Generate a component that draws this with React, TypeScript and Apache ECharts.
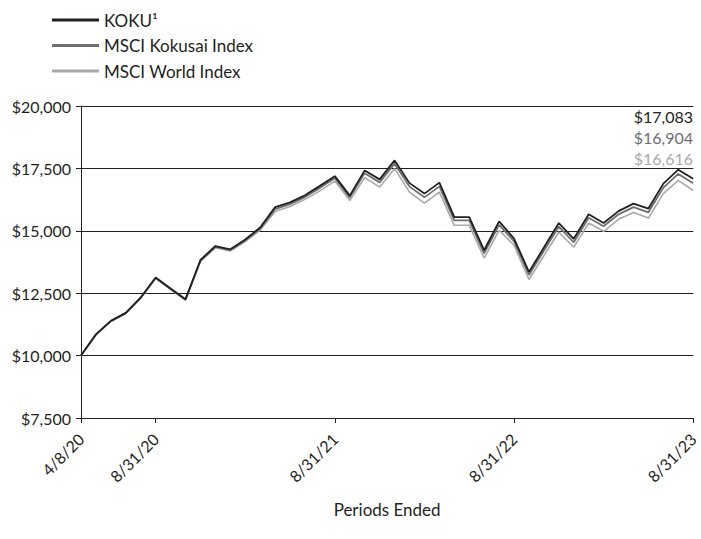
import React, { useEffect, useRef } from "react";
import * as echarts from "echarts";

const periods: string[] = [
  "4/8/20", "4/30/20", "5/31/20", "6/30/20", "7/31/20", "8/31/20", "9/30/20", "10/31/20", "11/30/20", "12/31/20",
  "1/31/21", "2/28/21", "3/31/21", "4/30/21", "5/31/21", "6/30/21", "7/31/21", "8/31/21", "9/30/21", "10/31/21",
  "11/30/21", "12/31/21", "1/31/22", "2/28/22", "3/31/22", "4/30/22", "5/31/22", "6/30/22", "7/31/22", "8/31/22",
  "9/30/22", "10/31/22", "11/30/22", "12/31/22", "1/31/23", "2/28/23", "3/31/23", "4/30/23", "5/31/23", "6/30/23",
  "7/31/23", "8/31/23",
];

const tickLabels: string[] = ["4/8/20", "8/31/20", "8/31/21", "8/31/22", "8/31/23"];

const koku: number[] = [
  10000, 10850, 11390, 11710, 12330, 13130, 12690, 12260, 13830, 14390,
  14260, 14650, 15130, 15950, 16140, 16420, 16800, 17190, 16410, 17420,
  17060, 17820, 16910, 16490, 16930, 15550, 15550, 14220, 15380, 14690,
  13350, 14330, 15310, 14680, 15660, 15310, 15790, 16090, 15890, 16890,
  17450, 17083,
];

const kokusai: number[] = [
  10000, 10845, 11380, 11700, 12315, 13110, 12670, 12240, 13800, 14360,
  14230, 14610, 15080, 15870, 16070, 16350, 16720, 17110, 16330, 17310,
  16940, 17690, 16770, 16340, 16780, 15420, 15420, 14100, 15240, 14580,
  13230, 14200, 15170, 14540, 15520, 15180, 15660, 15950, 15740, 16730,
  17280, 16904,
];

const world: number[] = [
  10000, 10840, 11370, 11690, 12300, 13090, 12650, 12220, 13770, 14320,
  14190, 14570, 15030, 15770, 15970, 16260, 16600, 16990, 16210, 17130,
  16750, 17490, 16550, 16110, 16550, 15220, 15220, 13910, 15020, 14420,
  13050, 14000, 14950, 14340, 15310, 14980, 15460, 15730, 15510, 16490,
  17020, 16616,
];

const seriesNames = ["KOKU¹", "MSCI Kokusai Index", "MSCI World Index"];
const colors = ["#231f20", "#6d6e71", "#a7a9ac"];

const fmt = (v: number) => "$" + v.toLocaleString("en-US");

export default function App() {
  const ref = useRef<HTMLDivElement>(null);
  useEffect(() => {
    if (!ref.current) return;
    const chart = echarts.init(ref.current, undefined, { renderer: "svg" });
    const font = "Lato, 'Open Sans', sans-serif";
    const labelIdx = new Set(tickLabels.map((t) => periods.indexOf(t)));
    const lastVals = [koku, kokusai, world].map((a) => a[a.length - 1]);
    chart.setOption({
      animation: false,
      textStyle: { fontFamily: font },
      grid: { left: 81, right: 7, top: 106, bottom: 121, containLabel: false },
      legend: {
        orient: "vertical",
        left: 52,
        top: 10,
        padding: 0,
        itemWidth: 47,
        itemHeight: 3,
        itemGap: 5.5,
        icon: "rect",
        textStyle: { fontFamily: font, fontSize: 17, color: "#231f20", lineHeight: 20 },
        data: seriesNames,
      },
      xAxis: {
        type: "category",
        data: periods,
        boundaryGap: false,
        name: "Periods Ended",
        nameLocation: "middle",
        nameGap: 83,
        nameTextStyle: { fontFamily: font, fontSize: 17, color: "#231f20" },
        axisLine: { lineStyle: { color: "#231f20", width: 1 } },
        axisTick: {
          show: true,
          length: 5,
          interval: (i: number) => labelIdx.has(i),
          lineStyle: { color: "#231f20" },
        },
        axisLabel: {
          interval: (i: number) => labelIdx.has(i),
          rotate: 45,
          margin: 18,
          fontFamily: font,
          fontSize: 16,
          color: "#231f20",
        },
        splitLine: { show: false },
      },
      yAxis: {
        type: "value",
        min: 7500,
        max: 20000,
        interval: 2500,
        axisLine: { show: true, lineStyle: { color: "#231f20", width: 1 } },
        axisTick: { show: true, length: 5, lineStyle: { color: "#231f20" } },
        axisLabel: {
          formatter: (v: number) => fmt(v),
          fontFamily: font,
          fontSize: 16,
          color: "#231f20",
          margin: 10,
        },
        splitLine: { show: true, lineStyle: { color: "#231f20", width: 1 } },
      },
      series: [
        {
          name: seriesNames[2],
          type: "line",
          data: world,
          symbol: "none",
          z: 2,
          lineStyle: { color: colors[2], width: 1.6 },
          itemStyle: { color: colors[2] },
        },
        {
          name: seriesNames[1],
          type: "line",
          data: kokusai,
          symbol: "none",
          z: 3,
          lineStyle: { color: colors[1], width: 1.8 },
          itemStyle: { color: colors[1] },
        },
        {
          name: seriesNames[0],
          type: "line",
          data: koku,
          symbol: "none",
          z: 4,
          lineStyle: { color: colors[0], width: 1.8 },
          itemStyle: { color: colors[0] },
        },
      ],
      graphic: lastVals.map((v, i) => ({
        type: "text",
        right: 8,
        top: 108 + i * 21,
        style: {
          text: fmt(v),
          fontFamily: font,
          fontSize: 16,
          fill: colors[i],
        },
      })),
    });
    return () => chart.dispose();
  }, []);
  return <div ref={ref} style={{ width: 701, height: 539, position: "absolute", left: 0, top: 0 }} />;
}
